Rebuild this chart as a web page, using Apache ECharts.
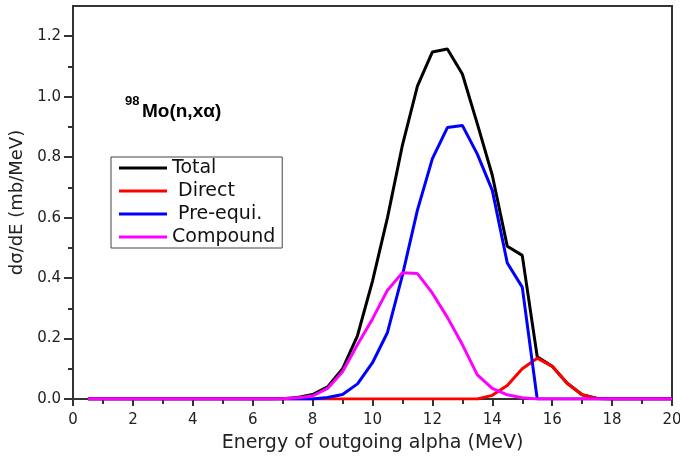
<!DOCTYPE html>
<html>
<head>
<meta charset="utf-8">
<script src="https://cdn.jsdelivr.net/npm/echarts@6/dist/echarts.min.js"></script>
<style>html,body{margin:0;padding:0;background:#fff;}#c{width:680px;height:457px;}</style>
</head>
<body>
<div id="c"></div>
<script>
// Energy of outgoing alpha (MeV)
var energy = [0,0.5,1,1.5,2,2.5,3,3.5,4,4.5,5,5.5,6,6.5,7,7.5,8,8.5,9,9.5,10,10.5,11,11.5,12,12.5,13,13.5,14,14.5,15,15.5,16,16.5,17,17.5,18,18.5,19,19.5,20];
var total    = [null,0,0,0,0,0,0,0,0,0,0,0,0,0,0.001,0.005,0.015,0.04,0.10,0.21,0.39,0.60,0.84,1.035,1.148,1.158,1.075,0.91,0.74,0.505,0.475,0.14,0.108,0.052,0.014,0.002,0,0,0,0,0];
var direct   = [null,0,0,0,0,0,0,0,0,0,0,0,0,0,0,0,0,0,0,0,0,0,0,0,0,0,0,0,0.012,0.045,0.10,0.135,0.108,0.052,0.014,0.002,0,0,0,0,0];
var preequi  = [null,0,0,0,0,0,0,0,0,0,0,0,0,0,0,0,0,0.005,0.015,0.05,0.12,0.22,0.41,0.625,0.795,0.898,0.905,0.81,0.69,0.45,0.37,0,0,0,0,0,0,0,0,0,0];
var compound = [null,0,0,0,0,0,0,0,0,0,0,0,0,0,0.001,0.004,0.01,0.035,0.09,0.18,0.265,0.36,0.418,0.415,0.35,0.27,0.18,0.08,0.035,0.014,0.004,0,0,0,0,0,0,0,0,0,0];
var seriesNames = ['Total','Direct','Pre-equi.','Compound'];
var legendLabels = {'Total':'Total','Direct':' Direct','Pre-equi.':' Pre-equi.','Compound':'Compound'};
var yMajor = [0,0.2,0.4,0.6,0.8,1.0,1.2];
var yMinor = [0.1,0.3,0.5,0.7,0.9,1.1];

function pairs(v){ return energy.map(function(x,i){ return [x, v[i]]; }); }
var colors = ['#000000','#ff0000','#0000ff','#ff00ff'];
var vals = [total, direct, preequi, compound];
var FONT = 'DejaVu Sans';

var chart = echarts.init(document.getElementById('c'));
chart.setOption({
  animation: false,
  backgroundColor: '#ffffff',
  grid: {left: 73, right: 8, top: 6, bottom: 58, outerBoundsMode: 'none', containLabel: false,
    show: true, borderColor: '#333', borderWidth: 2, backgroundColor: 'transparent'},
  legend: {
    orient: 'vertical', left: 111, top: 157,
    padding: [1, 7, 1, 8], itemGap: 3, itemWidth: 48, itemHeight: 3,
    icon: 'rect', borderColor: '#444', borderWidth: 1, backgroundColor: '#fff',
    data: seriesNames,
    formatter: function(n){ return legendLabels[n]; },
    textStyle: {fontFamily: FONT, fontSize: 19, color: '#111', lineHeight: 20}
  },
  xAxis: {
    type: 'value', min: 0, max: 20, interval: 2,
    name: 'Energy of outgoing alpha (MeV)', nameLocation: 'middle', nameGap: 35,
    nameTextStyle: {fontFamily: FONT, fontSize: 19, color: '#222'},
    axisLine: {show: true, onZero: false, lineStyle: {color: '#333', width: 2}},
    axisTick: {show: true, length: 7, lineStyle: {color: '#333', width: 2}},
    minorTick: {show: true, splitNumber: 2, length: 5, lineStyle: {color: '#333', width: 2}},
    axisLabel: {fontFamily: FONT, fontSize: 15, color: '#222', margin: 14},
    splitLine: {show: false}
  },
  yAxis: [{
    type: 'value', min: 0, max: 1.3,
    name: 'dσ/dE (mb/MeV)', nameLocation: 'middle', nameGap: 46,
    nameTextStyle: {fontFamily: FONT, fontSize: 18, color: '#222'},
    axisLine: {show: true, onZero: false, lineStyle: {color: '#333', width: 2}},
    axisTick: {show: true, length: 9, customValues: yMajor, lineStyle: {color: '#333', width: 2}},
    axisLabel: {fontFamily: FONT, fontSize: 15, color: '#222', margin: 12, customValues: yMajor,
      formatter: function(v){ return v.toFixed(1); }},
    splitLine: {show: false}
  },{
    type: 'value', min: 0, max: 1.3, position: 'left',
    axisLine: {show: false},
    axisTick: {show: true, length: 5, customValues: yMinor, lineStyle: {color: '#333', width: 2}},
    axisLabel: {show: false},
    splitLine: {show: false}
  }],
  series: seriesNames.map(function(n, i){
    return {
      name: n, type: 'line', data: pairs(vals[i]), yAxisIndex: 0,
      symbol: 'none', color: colors[i],
      lineStyle: {color: colors[i], width: 3}, z: 2 + i
    };
  }),
  graphic: [
    {type: 'text', left: 125, top: 95, style: {text: '98', fontFamily: 'Liberation Sans', fontWeight: 'bold', fontSize: 13, fill: '#000'}},
    {type: 'text', left: 142, top: 102, style: {text: 'Mo(n,xα)', fontFamily: 'Liberation Sans', fontWeight: 'bold', fontSize: 19, fill: '#000'}}
  ]
});
</script>
</body>
</html>
